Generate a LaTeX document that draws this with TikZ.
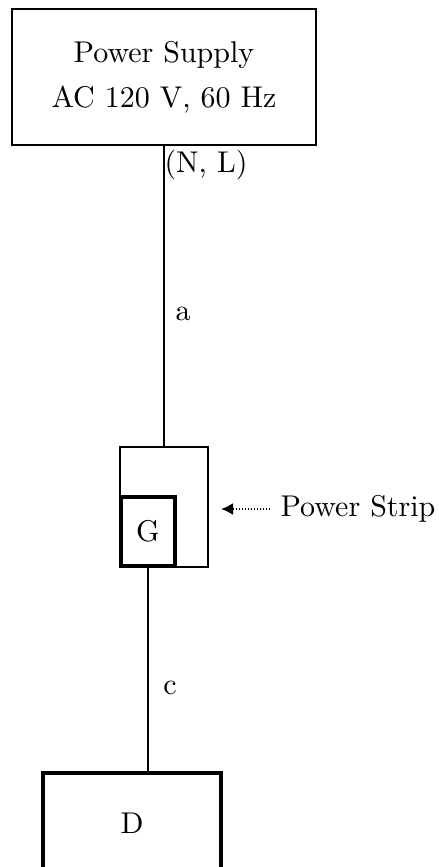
\documentclass[tikz,border=0pt]{standalone}
\usetikzlibrary{arrows.meta, positioning}

\begin{document}
\begin{tikzpicture}[
    x=0.3333pt, y=-0.3333pt,
    box/.style={rectangle, draw, line width=0.7pt, align=center, inner sep=0pt},
    heavybox/.style={box, line width=1.4pt},
    wire/.style={line width=0.7pt},
    pointer/.style={line width=0.7pt, dash pattern=on 0.35pt off 0.65pt, -{Latex[length=4pt, width=4pt]}}
]
    \useasboundingbox (0,0) rectangle (438,867);

    \node[box, minimum width=101.3pt, minimum height=45.3pt] (supply) at (164,77) {Power Supply\\[3pt] AC 120 V, 60 Hz};
    \node[box, minimum width=29.3pt, minimum height=40pt] (strip) at (164,507) {};
    \node[heavybox, minimum width=18pt, minimum height=23pt] (gnd) at (148,531.5) {G};
    \node[heavybox, minimum width=59.3pt, minimum height=33.3pt] (dev) at (132,823) {D};

    \node (nl) at (206,165) {(N, L)};
    \node (a) at (183,314) {a};
    \node (c) at (170,688) {c};
    \node[anchor=west] (striplbl) at (270,509) {Power Strip};

    \draw[wire] (supply) -- (strip);
    \draw[wire] (gnd.south) -- (gnd.south |- dev.north);
    \draw[pointer] (striplbl.west) -- ([xshift=4pt]strip.east |- striplbl.west);
\end{tikzpicture}
\end{document}
